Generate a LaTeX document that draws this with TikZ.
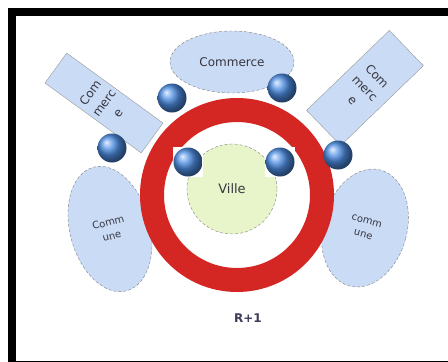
\documentclass[tikz,border=0pt]{standalone}
\usepackage{fontspec}
\setsansfont{DejaVu Sans}
\usetikzlibrary{shapes.geometric}

\definecolor{lblue}{RGB}{202,219,245}
\definecolor{lgreen}{RGB}{232,245,202}
\definecolor{ringred}{RGB}{212,38,34}
\definecolor{ballblue}{RGB}{78,142,228}
\definecolor{txt}{RGB}{55,55,65}

\tikzset{
	blob/.style={ellipse, draw=gray, densely dashed, fill=lblue, text=txt, align=center,
		font=\sffamily\fontsize{10}{14}\selectfont, inner sep=0pt},
	tab/.style={rectangle, draw=gray!80, fill=lblue, text=txt, align=center,
		font=\sffamily\fontsize{12}{17}\selectfont, inner sep=0pt},
	ball/.style={circle, shading=ball, ball color=ballblue, minimum size=29pt, inner sep=0pt},
}

\begin{document}
\begin{tikzpicture}[x=1pt, y=-1pt]
				\useasboundingbox (0,0) rectangle (448,362);
				% frame
				\fill[black] (8,8) rectangle (448,16);
				\fill[black] (8,16) rectangle (16,362);
				\fill[black] (16,361) rectangle (448,362);
				% outer shapes
				\node[blob, minimum width=124pt, minimum height=62pt, font=\sffamily\fontsize{12}{14}\selectfont] (top) at (232,62) {Commerce};
				\node[tab, minimum width=37pt, minimum height=119pt, rotate=54] (r1) at (104,103) {Com\\ merc\\ e};
				\node[tab, minimum width=49pt, minimum height=115pt, rotate=-46] (r2) at (365,88) {Com\\ merc\\ e};
				\node[blob, minimum width=80pt, minimum height=128pt, rotate=15] (e1) at (110,229) {Comm\\ une};
				\node[blob, minimum width=84pt, minimum height=120pt, rotate=-15] (e2) at (365,228) {comm\\ une};
				% ring and centre
				\node[circle, draw=ringred, line width=24pt, minimum size=170pt, inner sep=0pt] (ring) at (237,195) {};
				\node[circle, draw=gray, densely dashed, fill=lgreen, minimum size=90pt, inner sep=0pt, text=txt,
					font=\sffamily\fontsize{13}{15}\selectfont] (v) at (232,189) {Ville};
				% balls
				\node[ball] (b1) at (172,98) {};
				\node[ball] (b2) at (282,88) {};
				\node[ball] (b3) at (112,148) {};
				\node[fill=white, minimum size=30pt, inner sep=0pt] (w4) at (188,162) {};
				\node[ball] (b4) at (w4) {};
				\node[fill=white, minimum size=30pt, inner sep=0pt] (w5) at (280,162) {};
				\node[ball] (b5) at (w5) {};
				\node[ball] (b6) at (338,155) {};
				% caption
				\node[text={rgb,255:red,60;green,60;blue,90}, font=\sffamily\bfseries\fontsize{12}{14}\selectfont] (cap) at (248,318) {R+1};
			\end{tikzpicture}
\end{document}
